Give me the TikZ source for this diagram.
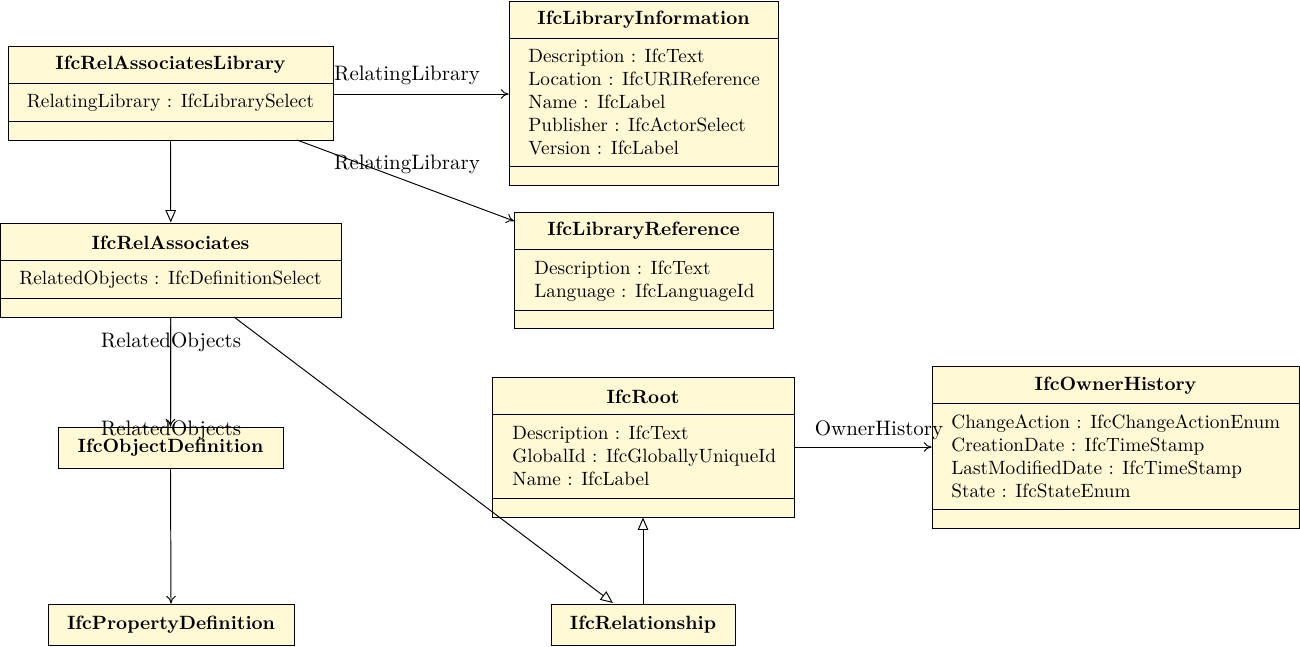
\documentclass[tikz,border=0pt]{standalone}
\usetikzlibrary{arrows.meta,fit}
\definecolor{clsfill}{RGB}{255,249,214}
\tikzset{
  cls/.style={draw=black, fill=clsfill, line width=0.5pt, inner sep=0pt},
  sep/.style={line width=0.5pt},
  ttl/.style={font=\bfseries, inner sep=0pt, yshift=-1pt},
  txt/.style={inner sep=0pt, yshift=-1pt},
  attr/.style={anchor=base west, inner sep=0pt},
  assoc/.style={-{To[length=4pt,width=5pt]}, line width=0.5pt},
  inherit/.style={-{Triangle[open,length=6.5pt,width=5.5pt]}, line width=0.5pt},
  lbl/.style={inner sep=0pt, font=\fontsize{10.9}{13}\selectfont}
}
\begin{document}
\begin{tikzpicture}[x=0.52pt,y=-0.52pt]
\useasboundingbox (0,0) rectangle (1300,646);
% IfcRelAssociatesLibrary
\node[cls, fit={(8,46)(333,140)}] (ral) {};
\draw[sep] (8,83) -- (333,83) (8,121) -- (333,121);
\node[ttl] (ralT) at (170.5,63) {IfcRelAssociatesLibrary};
\node[txt] (ralA) at (170.5,101) {RelatingLibrary : IfcLibrarySelect};
% IfcLibraryInformation
\node[cls, fit={(509,1)(778,185)}] (lin) {};
\draw[sep] (509,38) -- (778,38) (509,166) -- (778,166);
\node[ttl] (linT) at (643.5,18) {IfcLibraryInformation};
\node[attr] (linA1) at (528,62) {Description : IfcText};
\node[attr] (linA2) at (528,85) {Location : IfcURIReference};
\node[attr] (linA3) at (528,108) {Name : IfcLabel};
\node[attr] (linA4) at (528,131) {Publisher : IfcActorSelect};
\node[attr] (linA5) at (528,154) {Version : IfcLabel};
% IfcLibraryReference
\node[cls, fit={(514,212)(773,328)}] (lre) {};
\draw[sep] (514,249) -- (773,249) (514,310) -- (773,310);
\node[ttl] (lreT) at (643.5,229) {IfcLibraryReference};
\node[attr] (lreA1) at (534,274) {Description : IfcText};
\node[attr] (lreA2) at (534,297) {Language : IfcLanguageId};
% IfcRelAssociates
\node[cls, fit={(0.5,223)(341,317)}] (ra) {};
\draw[sep] (0.5,260) -- (341,260) (0.5,298) -- (341,298);
\node[ttl] (raT) at (170.5,241) {IfcRelAssociates};
\node[txt] (raA) at (170.5,278) {RelatedObjects : IfcDefinitionSelect};
% IfcObjectDefinition
\node[cls, fit={(58,427)(283,468)}] (od) {};
\node[ttl] (odT) at (170.5,446) {IfcObjectDefinition};
% IfcPropertyDefinition
\node[cls, fit={(48,604)(294,645)}] (pd) {};
\node[ttl] (pdT) at (171,623) {IfcPropertyDefinition};
% IfcRoot
\node[cls, fit={(492,377)(794,517)}] (root) {};
\draw[sep] (492,414) -- (794,414) (492,498) -- (794,498);
\node[ttl] (rootT) at (643,395) {IfcRoot};
\node[attr] (rootA1) at (512,439) {Description : IfcText};
\node[attr] (rootA2) at (512,462) {GlobalId : IfcGloballyUniqueId};
\node[attr] (rootA3) at (512,485) {Name : IfcLabel};
% IfcOwnerHistory
\node[cls, fit={(932,366)(1299,528)}] (oh) {};
\draw[sep] (932,403) -- (1299,403) (932,509) -- (1299,509);
\node[ttl] (ohT) at (1115.5,384) {IfcOwnerHistory};
\node[attr] (ohA1) at (951,428) {ChangeAction : IfcChangeActionEnum};
\node[attr] (ohA2) at (951,451) {CreationDate : IfcTimeStamp};
\node[attr] (ohA3) at (951,474) {LastModifiedDate : IfcTimeStamp};
\node[attr] (ohA4) at (951,497) {State : IfcStateEnum};
% IfcRelationship
\node[cls, fit={(551,604)(735,645)}] (rel) {};
\node[ttl] (relT) at (643,623) {IfcRelationship};
% connectors
\draw[assoc] (ral.east |- 0,94) -- (lin.west |- 0,94);
\node[lbl] (l1) at (407,75) {RelatingLibrary};
\draw[assoc] (297,140) coordinate (c1) -- (514,221) coordinate (c2);
\node[lbl] (l2) at (407,164) {RelatingLibrary};
\draw[inherit] (ral.south) -- (ra.north);
\draw[assoc] (ra.south) -- (od.north);
\draw[line width=0.5pt] (ra.south) -- (od.north);
\node[lbl] (l3) at (171,342) {RelatedObjects};
\node[lbl] (l4) at (171,430) {RelatedObjects};
\draw[assoc] (od.south) -- (pd.north);
\draw[inherit] (234,317) coordinate (c3) -- (613,603) coordinate (c4);
\draw[inherit] (rel.north) -- (root.south);
\draw[assoc] (root.east |- 0,447) -- (oh.west |- 0,447);
\node[lbl] (l5) at (879,430) {OwnerHistory};
\end{tikzpicture}
\end{document}
